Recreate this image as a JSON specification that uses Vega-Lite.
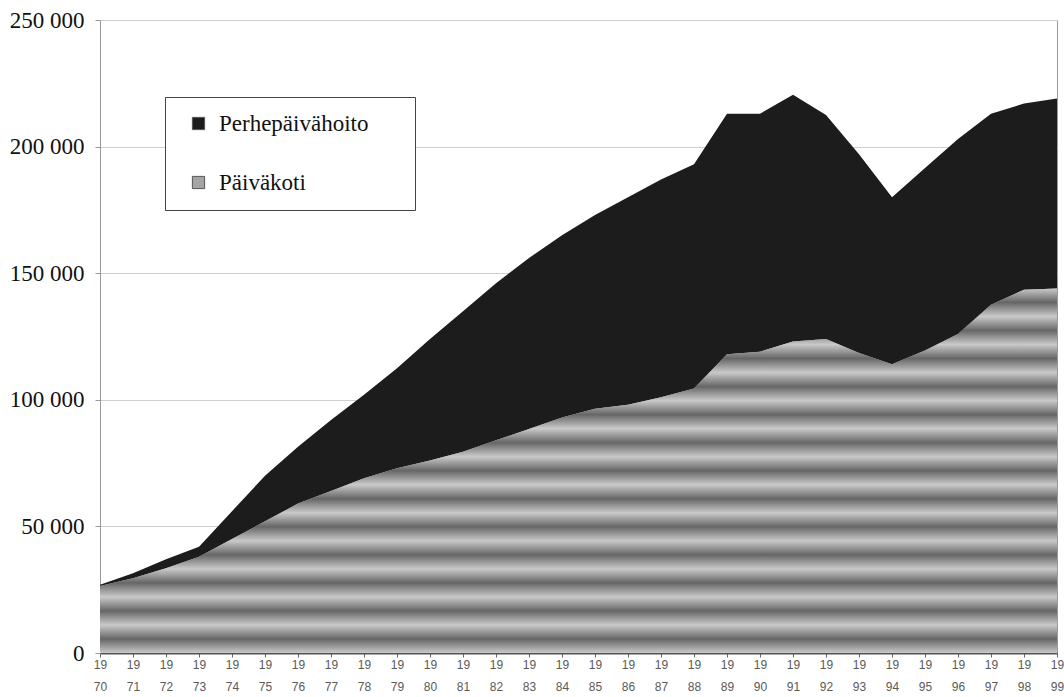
{
  "$schema": "https://vega.github.io/schema/vega-lite/v6.json",
  "autosize": "none",
  "width": 957,
  "height": 633,
  "padding": {"left": 100, "top": 20, "right": 7, "bottom": 44},
  "background": "white",
  "config": {
    "locale": {"number": {"decimal": ",", "thousands": " ", "grouping": [3], "currency": ["", " €"]}},
    "view": {"stroke": "#9a9a9a", "strokeWidth": 1}
  },
  "data": {
    "values": [
      {"year": 1970, "series": "Päiväkoti", "value": 26500}, {"year": 1970, "series": "Perhepäivähoito", "value": 500},
      {"year": 1971, "series": "Päiväkoti", "value": 29500}, {"year": 1971, "series": "Perhepäivähoito", "value": 2000},
      {"year": 1972, "series": "Päiväkoti", "value": 33500}, {"year": 1972, "series": "Perhepäivähoito", "value": 3500},
      {"year": 1973, "series": "Päiväkoti", "value": 38000}, {"year": 1973, "series": "Perhepäivähoito", "value": 4000},
      {"year": 1974, "series": "Päiväkoti", "value": 45000}, {"year": 1974, "series": "Perhepäivähoito", "value": 11000},
      {"year": 1975, "series": "Päiväkoti", "value": 52000}, {"year": 1975, "series": "Perhepäivähoito", "value": 18000},
      {"year": 1976, "series": "Päiväkoti", "value": 59000}, {"year": 1976, "series": "Perhepäivähoito", "value": 22500},
      {"year": 1977, "series": "Päiväkoti", "value": 64000}, {"year": 1977, "series": "Perhepäivähoito", "value": 28000},
      {"year": 1978, "series": "Päiväkoti", "value": 69000}, {"year": 1978, "series": "Perhepäivähoito", "value": 33000},
      {"year": 1979, "series": "Päiväkoti", "value": 73000}, {"year": 1979, "series": "Perhepäivähoito", "value": 39500},
      {"year": 1980, "series": "Päiväkoti", "value": 76000}, {"year": 1980, "series": "Perhepäivähoito", "value": 48000},
      {"year": 1981, "series": "Päiväkoti", "value": 79500}, {"year": 1981, "series": "Perhepäivähoito", "value": 55500},
      {"year": 1982, "series": "Päiväkoti", "value": 84000}, {"year": 1982, "series": "Perhepäivähoito", "value": 62000},
      {"year": 1983, "series": "Päiväkoti", "value": 88500}, {"year": 1983, "series": "Perhepäivähoito", "value": 67500},
      {"year": 1984, "series": "Päiväkoti", "value": 93000}, {"year": 1984, "series": "Perhepäivähoito", "value": 72000},
      {"year": 1985, "series": "Päiväkoti", "value": 96500}, {"year": 1985, "series": "Perhepäivähoito", "value": 76500},
      {"year": 1986, "series": "Päiväkoti", "value": 98000}, {"year": 1986, "series": "Perhepäivähoito", "value": 82000},
      {"year": 1987, "series": "Päiväkoti", "value": 101000}, {"year": 1987, "series": "Perhepäivähoito", "value": 86000},
      {"year": 1988, "series": "Päiväkoti", "value": 104500}, {"year": 1988, "series": "Perhepäivähoito", "value": 88500},
      {"year": 1989, "series": "Päiväkoti", "value": 118000}, {"year": 1989, "series": "Perhepäivähoito", "value": 95000},
      {"year": 1990, "series": "Päiväkoti", "value": 119000}, {"year": 1990, "series": "Perhepäivähoito", "value": 94000},
      {"year": 1991, "series": "Päiväkoti", "value": 123000}, {"year": 1991, "series": "Perhepäivähoito", "value": 97500},
      {"year": 1992, "series": "Päiväkoti", "value": 124000}, {"year": 1992, "series": "Perhepäivähoito", "value": 88500},
      {"year": 1993, "series": "Päiväkoti", "value": 118500}, {"year": 1993, "series": "Perhepäivähoito", "value": 78500},
      {"year": 1994, "series": "Päiväkoti", "value": 114000}, {"year": 1994, "series": "Perhepäivähoito", "value": 66000},
      {"year": 1995, "series": "Päiväkoti", "value": 119500}, {"year": 1995, "series": "Perhepäivähoito", "value": 72000},
      {"year": 1996, "series": "Päiväkoti", "value": 126000}, {"year": 1996, "series": "Perhepäivähoito", "value": 77000},
      {"year": 1997, "series": "Päiväkoti", "value": 137500}, {"year": 1997, "series": "Perhepäivähoito", "value": 75500},
      {"year": 1998, "series": "Päiväkoti", "value": 143500}, {"year": 1998, "series": "Perhepäivähoito", "value": 73500},
      {"year": 1999, "series": "Päiväkoti", "value": 144000}, {"year": 1999, "series": "Perhepäivähoito", "value": 75000}
    ]
  },
  "encoding": {
    "x": {
      "field": "year", "type": "quantitative",
      "scale": {"domain": [1970, 1999], "nice": false, "zero": false},
      "axis": {
        "title": null,
        "values": [1970,1971,1972,1973,1974,1975,1976,1977,1978,1979,1980,1981,1982,1983,1984,1985,1986,1987,1988,1989,1990,1991,1992,1993,1994,1995,1996,1997,1998,1999],
        "labelExpr": "['19', substring(toString(datum.value), 2, 4)]",
        "labelFont": "Liberation Sans", "labelFontSize": 12, "labelColor": "#5a5a5a",
        "labelLineHeight": 22, "labelPadding": 2, "labelOverlap": false, "labelFlush": false, "labelBound": false,
        "grid": false, "domainColor": "#555", "domainWidth": 2, "tickColor": "#666", "tickSize": 4
      }
    },
    "y": {
      "field": "value", "type": "quantitative", "stack": "zero",
      "scale": {"domain": [0, 250000], "nice": false},
      "axis": {
        "title": null, "values": [0, 50000, 100000, 150000, 200000, 250000], "format": ",d",
        "labelFont": "Liberation Serif", "labelFontSize": 23, "labelColor": "#111", "labelPadding": 11,
        "tickSize": 5, "tickColor": "#999", "domainColor": "#999",
        "grid": true, "gridColor": "#cfcfcf", "gridWidth": 1
      }
    }
  },
  "layer": [
    {
      "mark": {"type": "area", "interpolate": "linear"},
      "encoding": {
        "color": {
          "field": "series", "type": "nominal",
          "scale": {"domain": ["Perhepäivähoito", "Päiväkoti"], "range": ["#1c1c1c", "#a4a4a4"]},
          "legend": {
            "title": " ", "titleOrient": "right", "titlePadding": 32, "titleFontSize": 12,
            "orient": "none", "legendX": 65, "legendY": 77,
            "symbolType": "square", "symbolSize": 150, "symbolStrokeColor": "#555", "symbolStrokeWidth": 1, "symbolOffset": 7,
            "labelFont": "Liberation Serif", "labelFontSize": 23, "labelColor": "#111", "labelOffset": 9,
            "rowPadding": 35, "padding": 15,
            "fillColor": "white", "strokeColor": "#444"
          }
        },
        "order": {"field": "series", "sort": "descending"}
      }
    },
    {
      "transform": [{"filter": "datum.series === 'Päiväkoti'"}],
      "mark": {
        "type": "area", "interpolate": "linear",
        "fill": {
          "gradient": "linear", "x1": 0, "y1": 0, "x2": 0, "y2": 1,
          "stops": [
            {"offset": 0.0, "color": "#c9c9c9"}, {"offset": 0.0385, "color": "#666666"},
            {"offset": 0.0769, "color": "#c9c9c9"}, {"offset": 0.1154, "color": "#666666"},
            {"offset": 0.1538, "color": "#c9c9c9"}, {"offset": 0.1923, "color": "#666666"},
            {"offset": 0.2308, "color": "#c9c9c9"}, {"offset": 0.2692, "color": "#666666"},
            {"offset": 0.3077, "color": "#c9c9c9"}, {"offset": 0.3462, "color": "#666666"},
            {"offset": 0.3846, "color": "#c9c9c9"}, {"offset": 0.4231, "color": "#666666"},
            {"offset": 0.4615, "color": "#c9c9c9"}, {"offset": 0.5, "color": "#666666"},
            {"offset": 0.5385, "color": "#c9c9c9"}, {"offset": 0.5769, "color": "#666666"},
            {"offset": 0.6154, "color": "#c9c9c9"}, {"offset": 0.6538, "color": "#666666"},
            {"offset": 0.6923, "color": "#c9c9c9"}, {"offset": 0.7308, "color": "#666666"},
            {"offset": 0.7692, "color": "#c9c9c9"}, {"offset": 0.8077, "color": "#666666"},
            {"offset": 0.8462, "color": "#c9c9c9"}, {"offset": 0.8846, "color": "#666666"},
            {"offset": 0.9231, "color": "#c9c9c9"}, {"offset": 0.9615, "color": "#666666"},
            {"offset": 1.0, "color": "#c9c9c9"}
          ]
        }
      }
    }
  ]
}
